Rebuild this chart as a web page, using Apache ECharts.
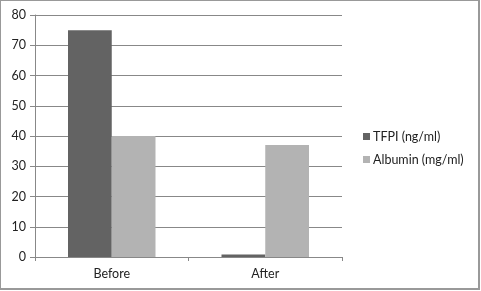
<!DOCTYPE html>
<html><head><meta charset="utf-8">
<script src="https://cdn.jsdelivr.net/npm/echarts@6/dist/echarts.min.js"></script>
<style>html,body{margin:0;padding:0;background:#fff}#c{width:481px;height:291px}
#b{position:absolute;left:0;top:0;width:480px;height:290px;box-sizing:border-box;border-left:1px solid #999;border-top:1px solid #999;border-right:2px solid #999;border-bottom:2px solid #999;pointer-events:none}</style>
</head><body><div id="c"></div><div id="b"></div>
<script>
const categories = ["Before", "After"];
const tfpi = [75, 0.8];
const albumin = [40, 37];
const seriesNames = ["TFPI (ng/ml)", "Albumin (mg/ml)"];
const chart = echarts.init(document.getElementById('c'), null, {renderer: 'canvas'});
const font = 'Lato';
chart.setOption({
  animation: false,
  grid: {left: 35, right: 139, top: 15, bottom: 34},
  legend: {
    orient: 'vertical', left: 358, top: 125, itemWidth: 7, itemHeight: 7, itemGap: 10,
    icon: 'rect',
    textStyle: {fontFamily: font, fontSize: 12.5, color: '#222', padding: [0,0,0,-2]},
    data: seriesNames
  },
  xAxis: {
    type: 'category', data: categories,
    axisLine: {lineStyle: {color: '#888'}},
    axisTick: {show: true, length: 4, lineStyle: {color: '#888'}},
    axisLabel: {fontFamily: font, fontSize: 12.5, color: '#222', margin: 10}
  },
  yAxis: {
    type: 'value', min: 0, max: 80, interval: 10,
    axisLine: {show: true, lineStyle: {color: '#888'}},
    axisTick: {show: true, length: 5, lineStyle: {color: '#888'}},
    splitLine: {lineStyle: {color: '#888'}},
    axisLabel: {fontFamily: font, fontSize: 12.5, color: '#222', margin: 9}
  },
  series: [
    {name: seriesNames[0], type: 'bar', data: tfpi, barGap: '0%', barCategoryGap: '43%', itemStyle: {color: '#636363'}},
    {name: seriesNames[1], type: 'bar', data: albumin, itemStyle: {color: '#b3b3b3'}}
  ]
});
</script></body></html>
